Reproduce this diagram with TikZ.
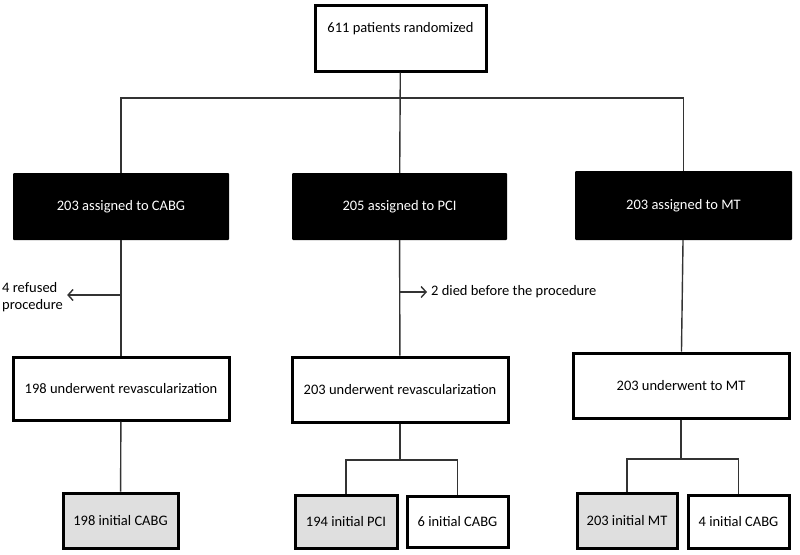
\documentclass[tikz,border=0pt]{standalone}
\usepackage{fontspec}
\setmainfont{Carlito}
\usetikzlibrary{arrows.meta}
\tikzset{
    whitebox/.style={draw, line width=3pt, fill=white, inner sep=2pt},
    greybox/.style={whitebox, fill=gray!25},
    blackbox/.style={fill=black, text=white, rounded corners=1pt},
    link/.style={line width=1.4pt, black!80}
}
\begin{document}
\begin{tikzpicture}[x=1pt, y=-1pt, >={Straight Barb[length=5pt, width=11pt]}, font=\fontsize{14.5}{17}\selectfont]
    \useasboundingbox (0,0) rectangle (800,554);
    \node[whitebox, minimum width=171, minimum height=66, text height=10pt, text depth=22pt] (rand) at (400.5,38) {611 patients randomized};
    \node[blackbox, minimum width=216, minimum height=67] (cabg) at (121,206.5) {203 assigned to CABG};
    \node[blackbox, minimum width=215, minimum height=67] (pci) at (399.5,206.5) {205 assigned to PCI};
    \node[blackbox, minimum width=217, minimum height=69] (mt) at (683.5,205.5) {203 assigned to MT};
    \node[whitebox, minimum width=216, minimum height=63] (revcabg) at (121,388.5) {198 underwent revascularization};
    \node[whitebox, minimum width=216, minimum height=65] (revpci) at (400,389.5) {203 underwent revascularization};
    \node[whitebox, minimum width=216, minimum height=65] (revmt) at (681,385.5) {203 underwent to MT};
    \node[greybox, minimum width=115, minimum height=55] (initcabg) at (120.5,520.5) {198 initial CABG};
    \node[greybox, minimum width=102, minimum height=53] (initpci) at (346,521.5) {194 initial PCI};
    \node[whitebox, minimum width=101, minimum height=51] (crosspci) at (457.5,522) {6 initial CABG};
    \node[greybox, minimum width=100, minimum height=55] (initmt) at (627,520.5) {203 initial MT};
    \node[whitebox, minimum width=101, minimum height=53] (crossmt) at (738.5,521.5) {4 initial CABG};
    \node[align=left, anchor=west, inner sep=0pt] (refused) at (2,297) {4 refused\\procedure};
    \node[anchor=west, inner sep=0pt] (died) at (431,292) {2 died before the procedure};
    % branch points
    \coordinate (bus) at (400,98);
    \coordinate (forkpci) at (400,460);
    \coordinate (forkmt) at (681,459);
    \draw[link] (rand) -- (pci);
    \draw[link] (cabg.north) |- (bus) -| (mt.north);
    \draw[link] (cabg) -- (revcabg);
    \draw[link] (pci) -- (revpci);
    \draw[link] (mt) -- (revmt);
    \draw[link] (revcabg) -- (initcabg);
    \draw[link] (revpci) -- (forkpci);
    \draw[link] (initpci.north) |- (forkpci) -| (crosspci.north);
    \draw[link] (revmt) -- (forkmt);
    \draw[link] (initmt.north) |- (forkmt) -| (crossmt.north);
    \draw[link, ->] (cabg.south |- 0,295) -- ([xshift=4pt]refused.east |- 0,295);
    \draw[link, ->] (pci.south |- died) -- ([xshift=-4pt]died.west);
\end{tikzpicture}
\end{document}
